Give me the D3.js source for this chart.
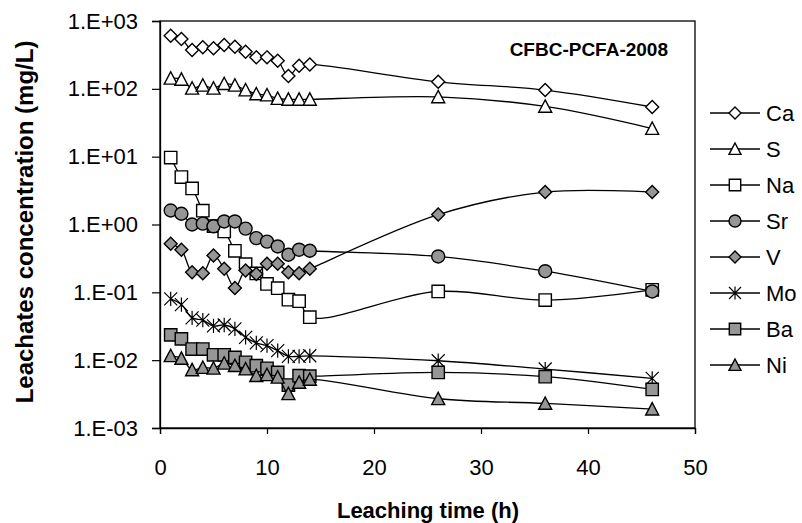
<!DOCTYPE html>
<html>
<head>
<meta charset="utf-8">
<script src="https://cdn.jsdelivr.net/npm/d3@7"></script>
<style>
  html, body { margin: 0; padding: 0; background: #fff; }
  svg { display: block; font-family: Arial, "Liberation Sans", Helvetica, sans-serif; }
</style>
</head>
<body>
<svg id="chart" width="802" height="523"></svg>
<script>
// Leaching times (h)
const time = [1, 2, 3, 4, 5, 6, 7, 8, 9, 10, 11, 12, 13, 14, 26, 36, 46];

// Leachate concentrations (mg/L) per element
const Ca = [607, 542, 373, 409, 395, 442, 417, 352, 291, 291, 259, 154, 219, 229, 127, 96, 54];
const S  = [143, 138, 102, 113, 102, 119, 113, 96, 84, 81, 72, 70, 70, 70, 76, 55, 26];
const Na = [9.7, 5.0, 3.4, 1.6, 0.95, 0.79, 0.41, 0.26, 0.19, 0.133, 0.115, 0.078, 0.074, 0.043, 0.103, 0.077, 0.109];
const Sr = [1.61, 1.44, 1.0, 1.03, 0.94, 1.11, 1.11, 0.87, 0.63, 0.56, 0.475, 0.358, 0.425, 0.41, 0.338, 0.205, 0.103];
const V  = [0.52, 0.425, 0.198, 0.191, 0.35, 0.222, 0.116, 0.21, 0.187, 0.264, 0.264, 0.198, 0.191, 0.222, 1.40, 3.01, 3.01];
const Mo = [0.080, 0.066, 0.042, 0.039, 0.032, 0.033, 0.029, 0.0217, 0.018, 0.0164, 0.0138, 0.0114, 0.0114, 0.0116, 0.0098, 0.0074, 0.0054];
const Ba = [0.0236, 0.0206, 0.0146, 0.0146, 0.0120, 0.0120, 0.0110, 0.0093, 0.0083, 0.0076, 0.0066, 0.0043, 0.0059, 0.0058, 0.0066, 0.0057, 0.0037];
const Ni = [0.0116, 0.0106, 0.0072, 0.0078, 0.0076, 0.0090, 0.0083, 0.0074, 0.0059, 0.0061, 0.0056, 0.0032, 0.0047, 0.0052, 0.0027, 0.0023, 0.0019];

const seriesNames = ["Ca", "S", "Na", "Sr", "V", "Mo", "Ba", "Ni"];
const seriesValues = [Ca, S, Na, Sr, V, Mo, Ba, Ni];
const seriesMarkers = ["diamond", "triangle", "square", "circle", "diamond", "star", "square", "triangle"];
const seriesFills = ["#ffffff", "#ffffff", "#ffffff", "#969696", "#969696", "none", "#969696", "#969696"];

const xTicks = [0, 10, 20, 30, 40, 50];
const yTicks = [1e3, 1e2, 1e1, 1e0, 1e-1, 1e-2, 1e-3];
const yTickLabels = ["1.E+03", "1.E+02", "1.E+01", "1.E+00", "1.E-01", "1.E-02", "1.E-03"];

const chartLabel = "CFBC-PCFA-2008";
const xTitle = "Leaching time (h)";
const yTitle = "Leachates concentration (mg/L)";

// Layout
const plot = { left: 160, right: 695, top: 21, bottom: 428 };
const svg = d3.select("#chart");

const x = d3.scaleLinear().domain([0, 50]).range([plot.left, plot.right]);
const y = d3.scaleLog().domain([1e-3, 1e3]).range([plot.bottom, plot.top]);

// Plot frame
svg.append("rect")
  .attr("x", plot.left).attr("y", plot.top)
  .attr("width", plot.right - plot.left).attr("height", plot.bottom - plot.top)
  .attr("fill", "none").attr("stroke", "#000").attr("stroke-width", 1.3);

// Axes
const xAxis = d3.axisBottom(x).tickValues(xTicks).tickSize(6).tickPadding(25).tickFormat(d3.format("d"));
const gx = svg.append("g").attr("transform", `translate(0,${plot.bottom})`).call(xAxis);
const yAxis = d3.axisLeft(y).tickValues(yTicks).tickSize(8).tickPadding(14)
  .tickFormat((d, i) => yTickLabels[i]);
const gy = svg.append("g").attr("transform", `translate(${plot.left},0)`).call(yAxis);

[gx, gy].forEach(g => {
  g.select(".domain").attr("stroke", "#000").attr("stroke-width", 1.3);
  g.selectAll(".tick line").attr("stroke", "#000").attr("stroke-width", 1.2);
  g.selectAll(".tick text").attr("fill", "#000").style("font-size", "22px")
    .style("font-family", "Arial, 'Liberation Sans', sans-serif");
});

// Marker shapes
const markerSize = 6.5;
function markerPath(type, r) {
  const p = d3.path();
  if (type === "diamond") {
    p.moveTo(0, -r); p.lineTo(r, 0); p.lineTo(0, r); p.lineTo(-r, 0); p.closePath();
  } else if (type === "triangle") {
    p.moveTo(0, -r); p.lineTo(r, r * 0.9); p.lineTo(-r, r * 0.9); p.closePath();
  } else if (type === "square") {
    p.rect(-r * 0.95, -r * 0.95, r * 1.9, r * 1.9);
  } else if (type === "circle") {
    p.arc(0, 0, r, 0, 2 * Math.PI);
  } else if (type === "star") {
    p.moveTo(-r, -r); p.lineTo(r, r);
    p.moveTo(-r, r); p.lineTo(r, -r);
    p.moveTo(0, -r * 1.1); p.lineTo(0, r * 1.1);
  }
  return p.toString();
}

const line = d3.line()
  .x(d => x(d[0]))
  .y(d => y(d[1]))
  .curve(d3.curveCatmullRom.alpha(0.5));

// Series: line first, then markers
seriesNames.forEach((name, si) => {
  const pts = time.map((t, i) => [t, seriesValues[si][i]]);
  const g = svg.append("g").attr("class", "series series-" + name);
  g.append("path")
    .attr("d", line(pts))
    .attr("fill", "none")
    .attr("stroke", "#000")
    .attr("stroke-width", 1.3);
  g.selectAll("path.mark")
    .data(pts)
    .join("path")
    .attr("class", "mark")
    .attr("transform", d => `translate(${x(d[0])},${y(d[1])})`)
    .attr("d", markerPath(seriesMarkers[si], markerSize))
    .attr("fill", seriesFills[si])
    .attr("stroke", "#000")
    .attr("stroke-width", seriesMarkers[si] === "star" ? 1.2 : 1.4);
});

// Legend
const legend = svg.append("g").attr("class", "legend");
seriesNames.forEach((name, i) => {
  const ly = 113 + i * 36;
  const item = legend.append("g").attr("transform", `translate(0,${ly})`);
  item.append("line").attr("x1", 710).attr("x2", 760).attr("y1", 0).attr("y2", 0)
    .attr("stroke", "#000").attr("stroke-width", 1.3);
  item.append("path")
    .attr("transform", "translate(735,0)")
    .attr("d", markerPath(seriesMarkers[i], 6))
    .attr("fill", seriesFills[i])
    .attr("stroke", "#000")
    .attr("stroke-width", seriesMarkers[i] === "star" ? 1.2 : 1.4);
  item.append("text")
    .attr("x", 766).attr("y", 8)
    .style("font-size", "22px")
    .text(name);
});

// In-plot label
svg.append("text")
  .attr("x", 668).attr("y", 56)
  .attr("text-anchor", "end")
  .style("font-size", "19px").style("font-weight", "bold")
  .text(chartLabel);

// Axis titles
svg.append("text")
  .attr("x", 428).attr("y", 518)
  .attr("text-anchor", "middle")
  .style("font-size", "22px").style("font-weight", "bold")
  .text(xTitle);

svg.append("text")
  .attr("transform", "translate(33,222) rotate(-90)")
  .attr("text-anchor", "middle")
  .style("font-size", "24px").style("font-weight", "bold")
  .text(yTitle);
</script>
</body>
</html>
